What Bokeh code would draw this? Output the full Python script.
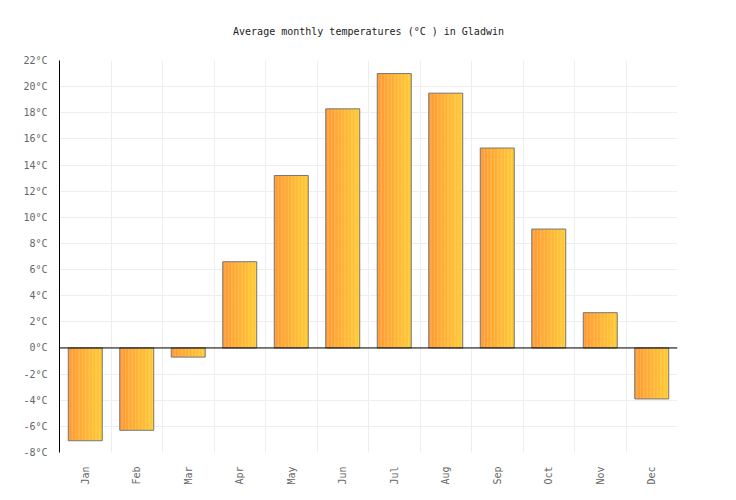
from math import pi

from bokeh.plotting import figure
from bokeh.models import FixedTicker, Span
from bokeh.embed import file_html
from bokeh.resources import INLINE

# data
months = ["Jan", "Feb", "Mar", "Apr", "May", "Jun",
          "Jul", "Aug", "Sep", "Oct", "Nov", "Dec"]
temps = [-7.1, -6.3, -0.7, 6.6, 13.2, 18.3, 21.0, 19.5, 15.3, 9.1, 2.7, -3.9]
y_ticks = list(range(-8, 23, 2))

FONT = "DejaVu Sans Mono"
BAR_W = 0.66
STRIPS = 24
C_LEFT = (255, 153, 51)
C_RIGHT = (255, 202, 51)

p = figure(
    width=728, height=492,
    x_range=(0, 12), y_range=(-8, 22),
    output_backend="svg", toolbar_location=None,
    min_border_left=59, min_border_right=51,
    min_border_top=60, min_border_bottom=40,
)
p.outline_line_color = None

p.title.text = "Average monthly temperatures (°C ) in Gladwin"
p.title.align = "center"
p.title.text_font = FONT
p.title.text_font_size = "10px"
p.title.text_font_style = "normal"
p.title.text_color = "#222222"
p.title.standoff = 47

# fake the horizontal gradient with thin strips
centers = [i + 0.5 for i in range(len(months))]
for k in range(STRIPS):
    t = k / (STRIPS - 1)
    col = "#%02x%02x%02x" % tuple(
        int(round(a + (b - a) * t)) for a, b in zip(C_LEFT, C_RIGHT))
    left = [c - BAR_W / 2 + k * BAR_W / STRIPS for c in centers]
    right = [l + BAR_W / STRIPS + 0.004 for l in left]
    p.quad(left=left, right=right,
           top=[max(v, 0) for v in temps], bottom=[min(v, 0) for v in temps],
           fill_color=col, line_color=None)

# outlines
p.quad(left=[c - BAR_W / 2 for c in centers], right=[c + BAR_W / 2 for c in centers],
       top=[max(v, 0) for v in temps], bottom=[min(v, 0) for v in temps],
       fill_color=None, line_color="#777777", line_width=1)

p.add_layout(Span(location=0, dimension="width", line_color="black", line_width=1))

# grid
p.xgrid.ticker = FixedTicker(ticks=list(range(0, 13)))
p.ygrid.ticker = FixedTicker(ticks=y_ticks)
p.xgrid.grid_line_color = "#eeeeee"
p.ygrid.grid_line_color = "#eeeeee"

# axes
p.xaxis.ticker = FixedTicker(ticks=centers)
p.xaxis.major_label_overrides = {c: m for c, m in zip(centers, months)}
p.xaxis.major_label_orientation = pi / 2
p.xaxis.axis_line_color = None
p.xaxis.major_tick_line_color = None
p.xaxis.minor_tick_line_color = None
p.xaxis.major_label_standoff = 8

p.yaxis.ticker = FixedTicker(ticks=y_ticks)
p.yaxis.major_label_overrides = {t: "%d°C" % t for t in y_ticks}
p.yaxis.axis_line_color = "black"
p.yaxis.major_tick_line_color = None
p.yaxis.minor_tick_line_color = None
p.yaxis.major_label_standoff = 6

for ax in (p.xaxis, p.yaxis):
    ax.major_label_text_font = FONT
    ax.major_label_text_font_size = "10px"
    ax.major_label_text_color = "#666666"

open("out.html", "w").write(file_html(p, INLINE))
